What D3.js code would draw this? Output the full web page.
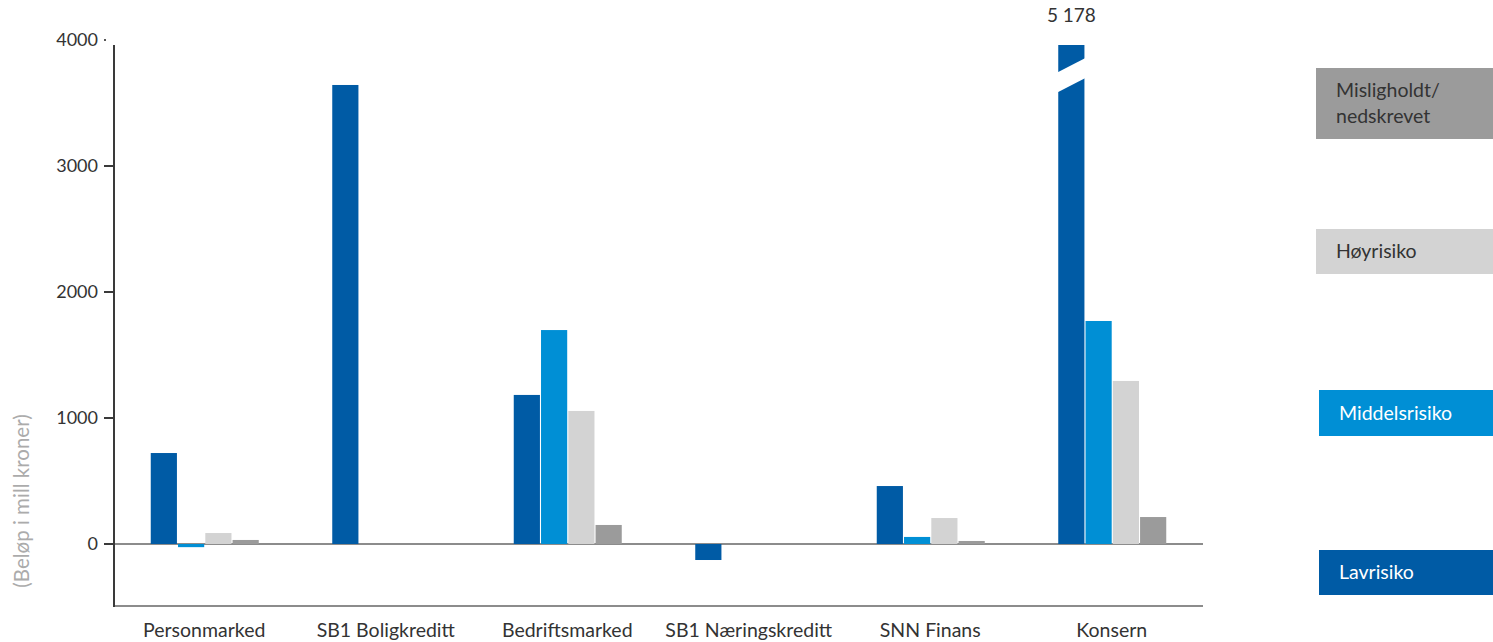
<!DOCTYPE html>
<html><head><meta charset="utf-8">
<script src="https://cdn.jsdelivr.net/npm/d3@7"></script>
<style>body{margin:0;background:#fff}svg{display:block}text{font-family:Lato,"Open Sans",sans-serif}</style>
</head><body><svg id="c" width="1493" height="642"></svg>
<script>
const categories = ["Personmarked","SB1 Boligkreditt","Bedriftsmarked","SB1 Næringskreditt","SNN Finans","Konsern"];
const seriesNames = ["Lavrisiko","Middelsrisiko","Høyrisiko","Misligholdt/nedskrevet"];
const lavrisiko = [722, 3643, 1183, -127, 460, 5178];
const middelsrisiko = [-25, 0, 1698, 0, 56, 1770];
const hoyrisiko = [87, 0, 1056, 0, 206, 1294];
const misligholdt = [32, 0, 151, 0, 24, 214];
const yTicks = [0, 1000, 2000, 3000, 4000];
const colors = ["#005BA5","#008FD5","#D3D3D3","#9B9B9B"];
const series = [lavrisiko, middelsrisiko, hoyrisiko, misligholdt];

const svg = d3.select("#c");
const x0 = d3.scaleBand().domain(categories).range([114, 1203]).paddingInner(0).paddingOuter(0);
const groupW = 108;
const x1 = d3.scaleBand().domain(d3.range(4)).range([0, groupW]).paddingInner(0.04);
const y = d3.scaleLinear().domain([-500, 4000]).range([607, 40]);
const axisTop = 45;
const clipVal = y.invert(axisTop);

// zero line
svg.append("line").attr("x1",114).attr("x2",1203).attr("y1",y(0)).attr("y2",y(0))
  .attr("stroke","#8c8c8c").attr("stroke-width",2);

// bars
const groups = svg.selectAll("g.grp").data(categories).join("g")
  .attr("transform", d => `translate(${x0(d) + (x0.bandwidth()-groupW)/2},0)`);
groups.each(function(cat, ci){
  const g = d3.select(this);
  series.forEach((s, si) => {
    const v = s[ci];
    if (v === 0) return;
    const vv = Math.min(v, clipVal);
    const yt = y(Math.max(vv,0)), yb = y(Math.min(vv,0));
    g.append("rect").attr("x", x1(si)).attr("width", x1.bandwidth())
      .attr("y", yt).attr("height", Math.max(yb-yt, 1)).attr("fill", colors[si]);
    if (v > clipVal) {
      const xa = x1(si)-1, xb = x1(si)+x1.bandwidth()+1;
      g.append("polygon").attr("points", `${xa},${axisTop+27.5} ${xb},${axisTop+13} ${xb},${axisTop+33} ${xa},${axisTop+47.5}`)
        .attr("fill","#fff");
      g.append("text").attr("x", x1(si)+x1.bandwidth()/2).attr("y", 22)
        .attr("text-anchor","middle").attr("font-size",19).attr("fill","#333")
        .text(d3.format(",")(v).replace(",", " "));
    }
  });
});

// axes lines
svg.append("line").attr("x1",114).attr("x2",1203).attr("y1",606).attr("y2",606)
  .attr("stroke","#8c8c8c").attr("stroke-width",2);
svg.append("line").attr("x1",114).attr("x2",114).attr("y1",axisTop).attr("y2",607)
  .attr("stroke","#3a3a3a").attr("stroke-width",2);

// y ticks
yTicks.forEach(t => {
  const yy = y(t);
  if (t === 4000) {
    svg.append("rect").attr("x",104).attr("y",yy-1).attr("width",2).attr("height",2).attr("fill","#555");
  } else {
    svg.append("line").attr("x1",104).attr("x2",114).attr("y1",yy).attr("y2",yy)
      .attr("stroke","#3a3a3a").attr("stroke-width",2);
  }
  svg.append("text").attr("x",98).attr("y",yy).attr("dy","0.35em").attr("text-anchor","end")
    .attr("font-size",18).attr("fill","#333").text(t);
});

// category labels
categories.forEach(c => {
  svg.append("text").attr("x", x0(c)+x0.bandwidth()/2 - 0.5).attr("y", 637)
    .attr("text-anchor","middle").attr("font-size",19.5).attr("fill","#333").text(c);
});

// y title
svg.append("text").attr("transform","translate(29,501) rotate(-90)").attr("text-anchor","middle")
  .attr("font-size",20.5).attr("fill","#ababab").text("(Beløp i mill kroner)");

// legend
const legend = [
  {i:3, x:1316, y:68, h:71, lines:["Misligholdt/","nedskrevet"], tc:"#333"},
  {i:2, x:1316, y:229, h:45, lines:["Høyrisiko"], tc:"#333"},
  {i:1, x:1319, y:390, h:46, lines:["Middelsrisiko"], tc:"#fff"},
  {i:0, x:1319, y:550, h:45, lines:["Lavrisiko"], tc:"#fff"}
];
legend.forEach(l => {
  svg.append("rect").attr("x",l.x).attr("y",l.y).attr("width",1493-l.x).attr("height",l.h).attr("fill",colors[l.i]);
  const t = svg.append("text").attr("font-size",19.5).attr("fill",l.tc);
  const n = l.lines.length;
  l.lines.forEach((s,k) => {
    t.append("tspan").attr("x", l.x+20).attr("y", l.y + l.h/2 + (k-(n-1)/2)*26).attr("dy","0.35em").text(s);
  });
});
</script></body></html>
